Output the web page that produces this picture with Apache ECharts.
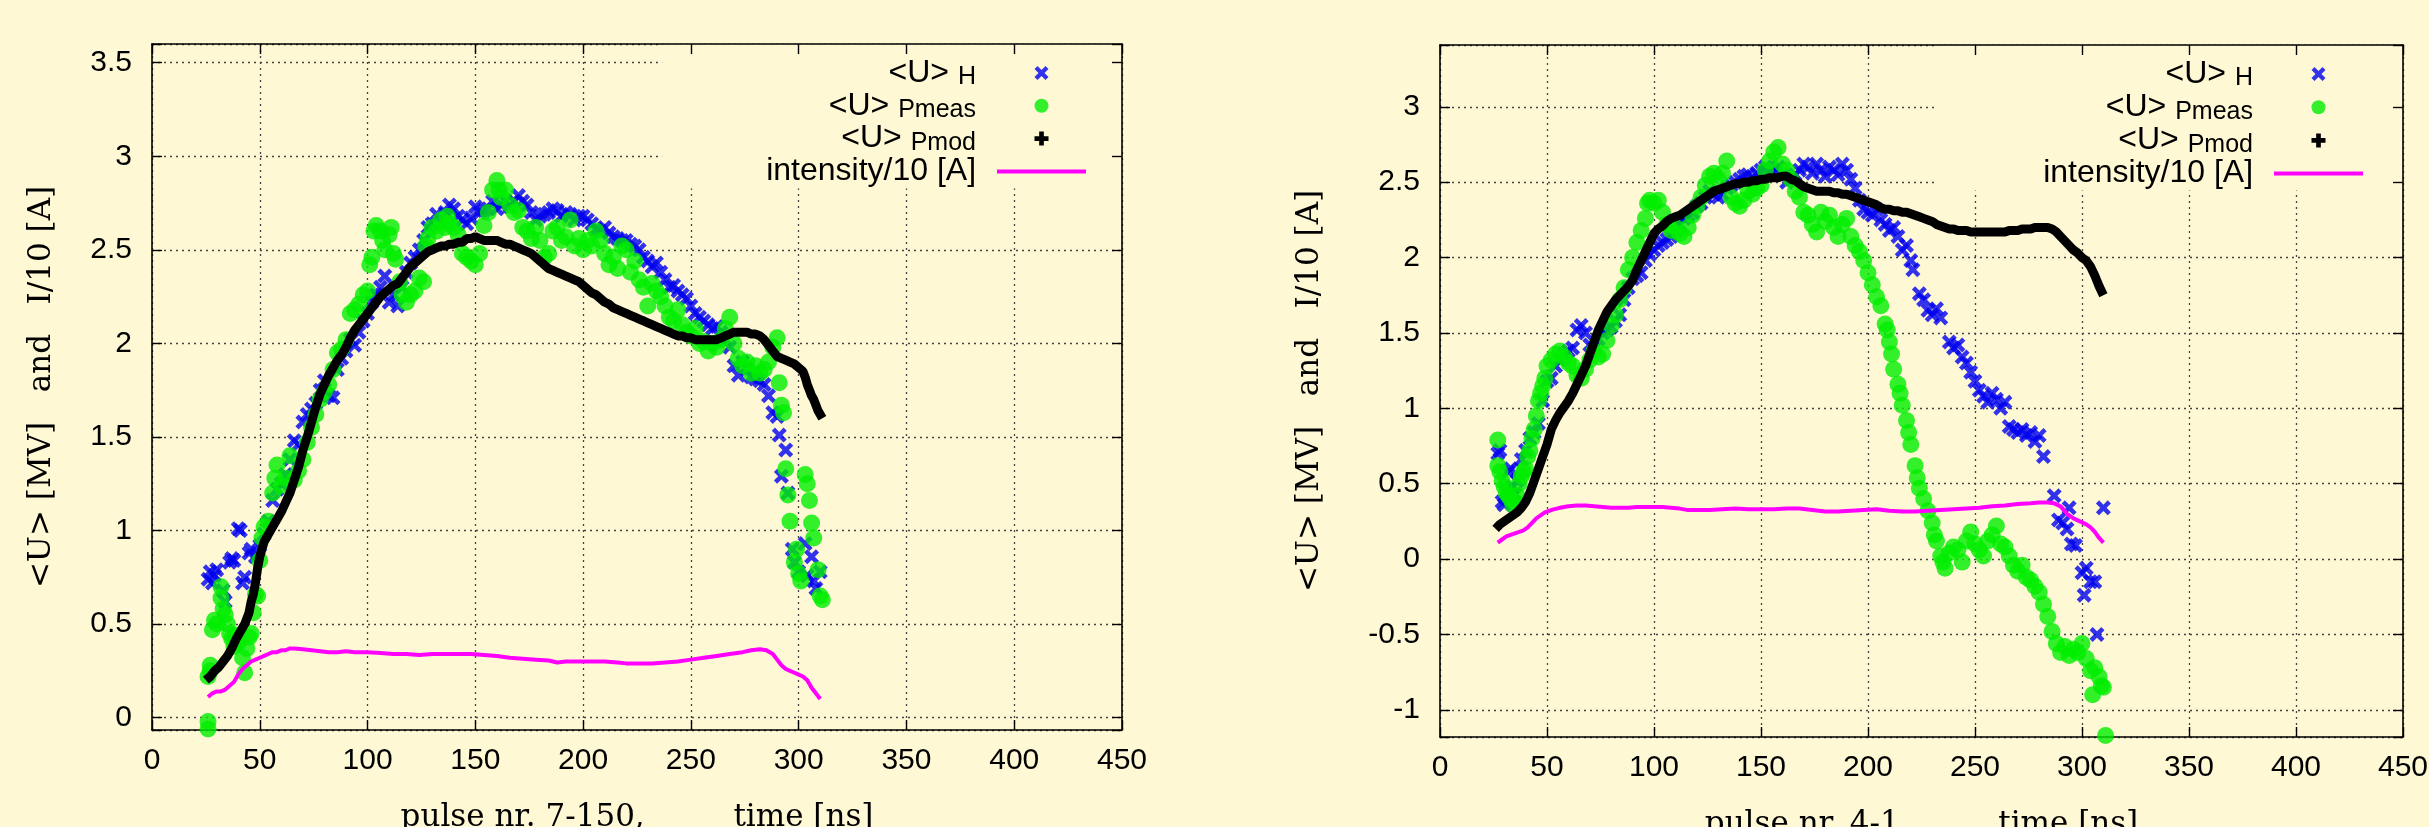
<!DOCTYPE html>
<html><head><meta charset="utf-8">
<script src="https://cdn.jsdelivr.net/npm/echarts@6/dist/echarts.min.js"></script>
<style>html,body{margin:0;padding:0;background:#fff8d5;}#c{width:2429px;height:827px;}</style>
</head><body><div id="c"></div>
<script>
// ---------- data (time [ns], value) ----------
const leftUH = [[26,0.74],[27,0.78],[28,0.72],[29,0.76],[30,0.79],[33,0.68],[34,0.62],[36,0.83],[37,0.85],[38,0.84],[40,1.01],[41,1.0],[42,0.72],[43,0.75],[45,0.88],[46,0.9],[48,0.86],[50,0.92],[52,0.98],[54,1.05],[56,1.16],[58,1.22],[60,1.25],[62,1.30],[64,1.38],[66,1.48],[68,1.46],[70,1.58],[72,1.62],[74,1.65],[76,1.68],[78,1.75],[80,1.80],[82,1.72],[84,1.71],[86,1.86],[88,1.92],[90,1.96],[92,2.02],[94,1.99],[96,2.06],[98,2.12],[100,2.16],[102,2.22],[104,2.26],[106,2.30],[108,2.36],[110,2.22],[112,2.26],[114,2.20],[116,2.30],[118,2.38],[120,2.43],[122,2.46],[124,2.50],[126,2.55],[128,2.62],[130,2.64],[132,2.69],[134,2.66],[136,2.70],[138,2.74],[140,2.72],[142,2.68],[144,2.66],[146,2.64],[148,2.67],[150,2.73],[152,2.70],[154,2.71],[156,2.72],[158,2.76],[160,2.72],[162,2.74],[164,2.76],[166,2.73],[168,2.76],[170,2.79],[172,2.76],[174,2.74],[176,2.70],[178,2.66],[180,2.68],[182,2.69],[184,2.70],[186,2.72],[188,2.71],[190,2.68],[192,2.70],[194,2.69],[196,2.66],[198,2.68],[200,2.68],[202,2.66],[204,2.64],[206,2.61],[208,2.60],[210,2.62],[212,2.59],[214,2.57],[216,2.56],[218,2.55],[220,2.55],[222,2.53],[224,2.52],[226,2.50],[228,2.46],[230,2.44],[232,2.41],[234,2.43],[236,2.38],[238,2.34],[240,2.30],[242,2.31],[244,2.28],[246,2.26],[248,2.24],[250,2.20],[252,2.16],[254,2.14],[256,2.12],[258,2.10],[260,2.08],[262,2.09],[264,2.06],[266,2.02],[268,1.98],[270,1.88],[272,1.83],[274,1.90],[276,1.86],[278,1.82],[280,1.81],[282,1.80],[284,1.78],[286,1.72],[288,1.63],[290,1.61],[291,1.51],[292,1.29],[294,1.43],[295,1.20],[297,0.90],[298,0.83],[300,0.78],[303,0.93],[304,0.76],[306,0.86],[307,0.73],[308,0.69],[310,0.78]];
const leftPmeas = [[26,-0.02],[26,-0.06],[26,0.22],[27,0.25],[27,0.28],[28,0.47],[29,0.52],[30,0.50],[32,0.70],[32,0.64],[33,0.58],[34,0.55],[35,0.50],[36,0.45],[37,0.42],[38,0.38],[39,0.44],[40,0.40],[42,0.32],[43,0.24],[44,0.37],[45,0.43],[46,0.45],[47,0.56],[48,0.66],[49,0.65],[50,0.84],[51,0.96],[52,1.02],[54,1.05],[56,1.20],[57,1.28],[58,1.35],[60,1.24],[62,1.28],[64,1.40],[66,1.27],[68,1.32],[70,1.38],[72,1.47],[74,1.55],[76,1.62],[78,1.70],[80,1.74],[82,1.78],[84,1.86],[86,1.95],[88,1.97],[90,2.02],[92,2.16],[94,2.18],[96,2.21],[98,2.26],[100,2.28],[101,2.42],[102,2.46],[103,2.60],[104,2.63],[106,2.60],[107,2.55],[108,2.50],[110,2.58],[111,2.62],[112,2.48],[113,2.45],[115,2.33],[116,2.26],[118,2.22],[120,2.26],[122,2.28],[124,2.35],[126,2.33],[127,2.52],[128,2.56],[130,2.62],[132,2.60],[134,2.66],[136,2.62],[137,2.68],[138,2.64],[140,2.62],[142,2.58],[144,2.48],[146,2.46],[148,2.44],[150,2.42],[152,2.48],[154,2.63],[156,2.70],[158,2.82],[160,2.87],[161,2.82],[162,2.78],[164,2.82],[166,2.74],[168,2.70],[170,2.71],[172,2.62],[174,2.60],[176,2.56],[178,2.62],[180,2.55],[182,2.46],[184,2.48],[186,2.60],[188,2.62],[190,2.55],[192,2.57],[194,2.66],[196,2.52],[198,2.56],[200,2.50],[202,2.55],[204,2.52],[206,2.60],[208,2.55],[210,2.48],[212,2.42],[214,2.46],[216,2.40],[218,2.52],[220,2.50],[222,2.38],[224,2.44],[226,2.34],[228,2.30],[230,2.20],[232,2.32],[234,2.28],[236,2.25],[238,2.20],[240,2.14],[242,2.12],[244,2.18],[246,2.10],[248,2.06],[250,2.04],[252,2.08],[254,2.00],[256,2.01],[258,1.96],[260,2.00],[262,1.98],[264,2.02],[266,2.08],[268,2.14],[270,2.00],[272,1.92],[274,1.88],[276,1.90],[278,1.84],[280,1.88],[282,1.84],[284,1.86],[286,1.90],[288,1.98],[290,2.03],[291,1.79],[292,1.67],[293,1.63],[294,1.33],[295,1.19],[296,1.05],[298,0.83],[299,0.90],[300,0.77],[301,0.73],[303,1.30],[304,1.25],[305,1.16],[306,1.04],[307,0.96],[309,0.79],[310,0.65],[311,0.63]];
const leftPmod = [[25,0.20],[27,0.22],[29,0.25],[31,0.27],[33,0.30],[35,0.33],[37,0.37],[39,0.42],[41,0.46],[43,0.50],[45,0.56],[46,0.62],[47,0.66],[48,0.72],[49,0.80],[50,0.86],[51,0.90],[52,0.94],[54,0.98],[56,1.02],[58,1.06],[60,1.10],[62,1.15],[64,1.20],[66,1.27],[68,1.34],[70,1.43],[72,1.50],[74,1.58],[76,1.66],[78,1.73],[80,1.78],[82,1.83],[84,1.87],[86,1.91],[88,1.94],[90,1.98],[92,2.03],[94,2.07],[96,2.10],[98,2.13],[100,2.16],[102,2.19],[104,2.22],[106,2.25],[108,2.27],[110,2.29],[112,2.31],[114,2.32],[116,2.35],[118,2.38],[120,2.41],[122,2.43],[124,2.45],[126,2.47],[128,2.49],[130,2.50],[132,2.51],[134,2.52],[136,2.52],[138,2.53],[140,2.53],[142,2.54],[144,2.54],[146,2.56],[148,2.56],[150,2.57],[152,2.56],[154,2.55],[156,2.55],[158,2.55],[160,2.55],[162,2.54],[164,2.53],[166,2.53],[168,2.52],[170,2.51],[172,2.50],[174,2.49],[176,2.48],[178,2.46],[180,2.44],[182,2.42],[184,2.40],[186,2.39],[188,2.38],[190,2.37],[192,2.36],[194,2.35],[196,2.34],[198,2.33],[200,2.31],[202,2.29],[204,2.27],[206,2.26],[208,2.24],[210,2.22],[212,2.21],[214,2.19],[216,2.18],[218,2.17],[220,2.16],[222,2.15],[224,2.14],[226,2.13],[228,2.12],[230,2.11],[232,2.10],[234,2.09],[236,2.08],[238,2.07],[240,2.06],[242,2.05],[244,2.04],[246,2.04],[248,2.03],[250,2.03],[252,2.02],[254,2.02],[256,2.02],[258,2.02],[260,2.02],[262,2.02],[264,2.03],[266,2.04],[268,2.05],[270,2.06],[272,2.06],[274,2.06],[276,2.06],[278,2.05],[280,2.05],[282,2.04],[284,2.02],[286,1.99],[288,1.96],[290,1.93],[292,1.92],[294,1.91],[296,1.90],[298,1.89],[300,1.87],[302,1.85],[303,1.82],[304,1.78],[305,1.75],[306,1.72],[307,1.70],[308,1.67],[309,1.64],[310,1.62],[311,1.60]];
const leftIntensity = [[26,0.11],[28,0.13],[30,0.14],[32,0.14],[34,0.15],[36,0.17],[38,0.19],[40,0.23],[42,0.26],[44,0.28],[46,0.30],[48,0.31],[50,0.32],[52,0.33],[54,0.34],[56,0.35],[58,0.35],[60,0.36],[62,0.36],[64,0.37],[66,0.37],[70,0.365],[74,0.36],[78,0.355],[82,0.35],[86,0.35],[90,0.355],[94,0.35],[100,0.35],[106,0.345],[112,0.34],[118,0.34],[124,0.335],[130,0.34],[136,0.34],[142,0.34],[148,0.34],[154,0.335],[160,0.33],[166,0.32],[172,0.315],[178,0.31],[184,0.305],[188,0.295],[192,0.30],[198,0.30],[204,0.30],[210,0.30],[216,0.295],[220,0.29],[226,0.29],[232,0.29],[238,0.295],[244,0.30],[250,0.31],[256,0.32],[262,0.33],[268,0.34],[274,0.35],[278,0.36],[282,0.365],[285,0.36],[288,0.34],[290,0.31],[292,0.28],[294,0.26],[296,0.25],[298,0.24],[300,0.23],[302,0.22],[304,0.20],[306,0.16],[308,0.13],[310,0.10]];

const rightUH = [[27,0.70],[28,0.72],[29,0.38],[30,0.36],[31,0.45],[32,0.58],[33,0.60],[34,0.48],[35,0.43],[36,0.52],[38,0.66],[40,0.72],[42,0.80],[44,0.84],[46,0.90],[48,1.05],[50,1.18],[52,1.20],[54,1.28],[56,1.32],[58,1.36],[60,1.38],[62,1.40],[64,1.52],[66,1.55],[68,1.50],[70,1.42],[72,1.40],[74,1.46],[76,1.50],[78,1.52],[80,1.54],[82,1.58],[84,1.62],[86,1.72],[88,1.80],[90,1.86],[92,1.88],[94,1.90],[96,1.98],[98,2.02],[100,2.05],[102,2.08],[104,2.10],[106,2.12],[108,2.14],[110,2.18],[112,2.22],[114,2.26],[116,2.28],[118,2.30],[120,2.34],[122,2.36],[124,2.40],[126,2.44],[128,2.42],[130,2.40],[132,2.42],[134,2.46],[136,2.48],[138,2.50],[140,2.52],[142,2.54],[144,2.55],[146,2.53],[148,2.56],[150,2.58],[152,2.60],[154,2.56],[156,2.58],[158,2.60],[160,2.55],[162,2.50],[164,2.52],[166,2.55],[168,2.58],[170,2.62],[172,2.60],[174,2.56],[176,2.62],[178,2.58],[180,2.54],[182,2.60],[184,2.58],[186,2.55],[188,2.62],[190,2.58],[192,2.52],[194,2.46],[196,2.38],[198,2.32],[200,2.30],[202,2.28],[204,2.32],[206,2.25],[208,2.22],[210,2.18],[212,2.20],[214,2.14],[216,2.05],[218,2.08],[220,1.98],[221,1.92],[224,1.76],[226,1.72],[228,1.65],[230,1.62],[232,1.66],[234,1.60],[238,1.44],[240,1.40],[242,1.42],[244,1.34],[246,1.30],[248,1.24],[250,1.18],[252,1.12],[254,1.08],[256,1.04],[258,1.10],[260,1.06],[262,1.00],[264,1.04],[266,0.88],[268,0.86],[270,0.84],[272,0.86],[274,0.82],[276,0.84],[278,0.78],[280,0.82],[282,0.68],[287,0.42],[289,0.26],[291,0.24],[293,0.20],[294,0.34],[295,0.10],[297,0.09],[300,-0.09],[301,-0.24],[302,-0.06],[304,-0.15],[306,-0.15],[307,-0.50],[310,0.34]];
const rightPmeas = [[27,0.79],[27,0.62],[28,0.58],[29,0.52],[30,0.48],[31,0.44],[32,0.42],[33,0.40],[34,0.36],[35,0.38],[36,0.42],[37,0.50],[38,0.55],[39,0.58],[40,0.60],[41,0.68],[42,0.72],[43,0.80],[44,0.86],[45,0.95],[46,1.05],[47,1.10],[48,1.15],[49,1.20],[50,1.28],[52,1.32],[54,1.36],[56,1.38],[58,1.34],[60,1.30],[62,1.28],[64,1.22],[66,1.20],[68,1.26],[70,1.32],[72,1.38],[74,1.34],[76,1.36],[78,1.45],[80,1.55],[82,1.62],[84,1.72],[86,1.80],[88,1.92],[90,2.00],[92,2.10],[94,2.18],[96,2.26],[97,2.36],[98,2.38],[100,2.36],[102,2.38],[104,2.30],[106,2.22],[108,2.18],[110,2.20],[112,2.16],[114,2.14],[116,2.20],[118,2.28],[120,2.34],[122,2.40],[124,2.48],[126,2.54],[128,2.56],[130,2.52],[132,2.56],[134,2.64],[136,2.40],[138,2.36],[140,2.34],[142,2.38],[144,2.44],[146,2.42],[148,2.46],[150,2.48],[152,2.58],[154,2.64],[156,2.70],[158,2.73],[160,2.62],[162,2.58],[164,2.52],[166,2.44],[168,2.40],[170,2.30],[172,2.28],[174,2.22],[176,2.17],[178,2.30],[180,2.24],[182,2.28],[184,2.20],[186,2.14],[188,2.22],[190,2.26],[192,2.14],[194,2.08],[196,2.04],[198,1.98],[200,1.90],[202,1.82],[204,1.74],[206,1.68],[208,1.56],[209,1.52],[210,1.44],[211,1.36],[212,1.26],[214,1.16],[215,1.10],[216,1.02],[218,0.92],[219,0.84],[220,0.76],[222,0.62],[223,0.54],[224,0.47],[226,0.40],[228,0.32],[230,0.24],[231,0.16],[232,0.12],[234,0.02],[235,-0.02],[236,-0.06],[238,0.04],[240,0.08],[242,0.06],[244,-0.02],[246,0.12],[248,0.18],[250,0.10],[252,0.06],[254,0.02],[256,0.12],[258,0.16],[260,0.22],[262,0.10],[264,0.08],[266,0.02],[268,-0.04],[270,-0.08],[272,-0.04],[274,-0.12],[276,-0.14],[278,-0.18],[280,-0.22],[282,-0.30],[284,-0.38],[286,-0.48],[288,-0.56],[290,-0.62],[292,-0.58],[294,-0.64],[296,-0.60],[298,-0.62],[300,-0.56],[302,-0.66],[304,-0.74],[305,-0.90],[306,-0.72],[308,-0.78],[309,-0.84],[310,-0.85],[311,-1.17]];
const rightPmod = [[26,0.20],[28,0.23],[30,0.25],[32,0.27],[34,0.29],[36,0.31],[38,0.34],[40,0.38],[42,0.44],[44,0.52],[46,0.60],[48,0.68],[50,0.76],[52,0.86],[54,0.92],[56,0.97],[58,1.01],[60,1.05],[62,1.10],[64,1.16],[66,1.22],[68,1.28],[70,1.36],[72,1.44],[74,1.52],[76,1.58],[78,1.64],[80,1.68],[82,1.72],[84,1.75],[86,1.78],[88,1.81],[90,1.85],[92,1.92],[94,1.98],[96,2.04],[98,2.10],[100,2.16],[102,2.19],[104,2.21],[106,2.24],[108,2.26],[110,2.27],[112,2.28],[114,2.30],[116,2.32],[118,2.34],[120,2.36],[122,2.38],[124,2.40],[126,2.42],[128,2.44],[130,2.45],[132,2.46],[134,2.47],[136,2.48],[138,2.49],[140,2.49],[142,2.50],[144,2.50],[146,2.51],[148,2.51],[150,2.52],[152,2.52],[154,2.53],[156,2.53],[158,2.53],[160,2.54],[162,2.54],[164,2.52],[166,2.51],[168,2.49],[170,2.47],[172,2.46],[174,2.45],[176,2.44],[178,2.44],[180,2.44],[182,2.44],[184,2.43],[186,2.43],[188,2.42],[190,2.42],[192,2.41],[194,2.40],[196,2.39],[198,2.38],[200,2.37],[202,2.36],[204,2.35],[206,2.33],[208,2.32],[210,2.32],[212,2.31],[214,2.31],[216,2.30],[218,2.30],[220,2.29],[222,2.28],[224,2.27],[226,2.26],[228,2.25],[230,2.24],[232,2.22],[234,2.21],[236,2.20],[238,2.19],[240,2.19],[242,2.18],[244,2.18],[246,2.18],[248,2.17],[250,2.17],[252,2.17],[254,2.17],[256,2.17],[258,2.17],[260,2.17],[262,2.17],[264,2.17],[266,2.18],[268,2.18],[270,2.18],[272,2.19],[274,2.19],[276,2.19],[278,2.20],[280,2.20],[282,2.20],[284,2.20],[286,2.19],[288,2.17],[290,2.14],[292,2.11],[294,2.08],[296,2.05],[298,2.03],[300,2.00],[302,1.98],[304,1.94],[306,1.88],[308,1.81],[310,1.75]];
const rightIntensity = [[27,0.11],[29,0.13],[31,0.15],[33,0.16],[35,0.17],[37,0.18],[39,0.19],[41,0.21],[43,0.24],[45,0.27],[47,0.29],[49,0.31],[51,0.32],[53,0.33],[56,0.34],[60,0.35],[64,0.355],[68,0.355],[72,0.35],[76,0.345],[80,0.34],[84,0.34],[88,0.34],[92,0.345],[96,0.345],[100,0.345],[104,0.345],[108,0.34],[112,0.335],[116,0.325],[120,0.325],[126,0.325],[132,0.33],[138,0.335],[144,0.33],[150,0.33],[156,0.33],[162,0.335],[168,0.335],[174,0.325],[180,0.315],[186,0.315],[192,0.32],[198,0.325],[204,0.33],[210,0.32],[216,0.315],[222,0.315],[228,0.32],[234,0.325],[240,0.33],[246,0.335],[252,0.34],[258,0.35],[264,0.355],[270,0.365],[276,0.37],[280,0.375],[284,0.375],[287,0.37],[290,0.35],[293,0.30],[296,0.27],[299,0.25],[302,0.23],[304,0.21],[306,0.18],[308,0.14],[310,0.11]];

// axis ranges and labels
const xRange = [0, 450];
const xStep = 50;
const yRangeLeft = [-0.066, 3.6];
const yRangeRight = [-1.18, 3.41];
const yStep = 0.5;
const seriesNames = ['<U> H', '<U> Pmeas', '<U> Pmod', 'intensity/10 [A]'];
const legendParts = [['<U> ', 'H'], ['<U> ', 'Pmeas'], ['<U> ', 'Pmod'], ['intensity/10 [A]', '']];
const xNames = ['pulse nr. 7-150,         time [ns]', 'pulse nr. 4-1,         time [ns]'];
const yName = '<U> [MV]   and   I/10 [A]';

// ---------- style ----------
const BG = '#fff8d5';
const C_BLUE = '#0000f0', C_GREEN = '#00ee00', C_BLACK = '#000000', C_MAG = '#ff00ff';
const SANS = 'Liberation Sans', SERIF = 'DejaVu Serif';
const XSYM = 'path://M0,3 L3,0 L7,4 L11,0 L14,3 L10,7 L14,11 L11,14 L7,10 L3,14 L0,11 L4,7 Z';
const PSYM = 'path://M3,0 L6,0 L6,3 L9,3 L9,6 L6,6 L6,9 L3,9 L3,6 L0,6 L0,3 L3,3 Z';
// thin bar centred in a 89x14 box (tiny zero-area anchors keep the full box height)
const LSYM = 'path://M0,0 L0.01,0 L0,0.01 Z M0,5 L89,5 L89,9 L0,9 Z M0,14 L0.01,14 L0,13.99 Z';

const grids = [
  {left: 152, top: 44, width: 970, height: 686, outerBoundsMode: 'none', containLabel: false},
  {left: 1440, top: 45, width: 963, height: 692, outerBoundsMode: 'none', containLabel: false}
];
const yRanges = [yRangeLeft, yRangeRight];
const yNameGaps = [95, 115];

const xAxes = [], yAxes = [];
const axisLineStyle = {show: true, onZero: false, lineStyle: {color: '#000', width: 1.6}};
const tickStyle = {show: true, inside: true, length: 10, lineStyle: {color: '#000', width: 1.4}};
const gridLineStyle = {show: true, lineStyle: {color: '#444', width: 1.3, type: [2, 4]}};
const yFmt = v => (Math.abs(v / yStep - Math.round(v / yStep)) < 1e-6 ? String(Math.round(v * 10) / 10) : '');
grids.forEach((g, i) => {
  xAxes.push({
    gridIndex: i, type: 'value', position: 'bottom', min: xRange[0], max: xRange[1], interval: xStep, z: 0,
    axisLine: axisLineStyle, axisTick: tickStyle,
    axisLabel: {show: true, margin: 16, fontSize: 30, fontFamily: SANS, color: '#000'},
    splitLine: gridLineStyle,
    name: xNames[i], nameLocation: 'middle', nameGap: 72,
    nameTextStyle: {fontFamily: SERIF, fontSize: 31, color: '#000'}
  });
  xAxes.push({
    gridIndex: i, type: 'value', position: 'top', min: xRange[0], max: xRange[1], interval: xStep, z: 3,
    axisLine: axisLineStyle, axisTick: tickStyle,
    axisLabel: {show: false}, splitLine: {show: false}
  });
  yAxes.push({
    gridIndex: i, type: 'value', position: 'left', min: yRanges[i][0], max: yRanges[i][1],
    minInterval: yStep, maxInterval: yStep, splitNumber: 8, z: 0,
    axisLine: axisLineStyle, axisTick: tickStyle,
    axisLabel: {show: true, margin: 20, fontSize: 30, fontFamily: SANS, color: '#000', formatter: yFmt},
    splitLine: gridLineStyle,
    name: yName, nameLocation: 'middle', nameGap: yNameGaps[i], nameRotate: 90,
    nameTextStyle: {fontFamily: SERIF, fontSize: 31, color: '#000'}
  });
  yAxes.push({
    gridIndex: i, type: 'value', position: 'right', min: yRanges[i][0], max: yRanges[i][1],
    minInterval: yStep, maxInterval: yStep, splitNumber: 8, z: 3,
    axisLine: axisLineStyle, axisTick: tickStyle,
    axisLabel: {show: false}, splitLine: {show: false}
  });
});

const panelData = [
  [leftUH, leftPmeas, leftPmod, leftIntensity],
  [rightUH, rightPmeas, rightPmod, rightIntensity]
];
const series = [];
panelData.forEach((d, i) => {
  const xi = i * 2, yi = i * 2;
  series.push({name: seriesNames[0], type: 'scatter', xAxisIndex: xi, yAxisIndex: yi, data: d[0],
    symbol: XSYM, symbolSize: 15, itemStyle: {color: C_BLUE}, silent: true, z: 2});
  series.push({name: seriesNames[1], type: 'scatter', xAxisIndex: xi, yAxisIndex: yi, data: d[1],
    symbol: 'circle', symbolSize: 17, itemStyle: {color: C_GREEN}, silent: true, z: 3});
  series.push({name: seriesNames[2], type: 'line', xAxisIndex: xi, yAxisIndex: yi, data: d[2],
    symbol: 'none', lineStyle: {color: C_BLACK, width: 9}, itemStyle: {color: C_BLACK}, silent: true, z: 4});
  series.push({name: seriesNames[3], type: 'line', xAxisIndex: xi, yAxisIndex: yi, data: d[3],
    symbol: 'none', lineStyle: {color: C_MAG, width: 4}, itemStyle: {color: C_MAG}, silent: true, z: 5});
});

const legendData = [
  {name: seriesNames[0], icon: XSYM, itemStyle: {color: C_BLUE}},
  {name: seriesNames[1], icon: 'circle', itemStyle: {color: C_GREEN}},
  {name: seriesNames[2], icon: PSYM, itemStyle: {color: C_BLACK}},
  {name: seriesNames[3], icon: LSYM, itemStyle: {color: C_MAG}}
];
const legendFmt = name => {
  const p = legendParts[seriesNames.indexOf(name)];
  return p[1] ? '{m|' + p[0] + '}{s|' + p[1] + '}' : '{m|' + p[0] + '}{z| }';
};
const legendRich = {
  m: {fontSize: 32, lineHeight: 34, fontFamily: SANS, color: '#000'},
  s: {fontSize: 25, lineHeight: 8, verticalAlign: 'bottom', fontFamily: SANS, color: '#000', padding: [0, 16, 0, 0]},
  z: {fontSize: 25, lineHeight: 8, verticalAlign: 'bottom', fontFamily: SANS, color: '#000', padding: [0, 9, 0, 0]}
};
const mkLegend = (right, top, gap, pad) => ({
  orient: 'vertical', align: 'right', right: right, top: top, itemGap: gap,
  itemWidth: 89, itemHeight: 14, padding: pad, backgroundColor: BG, z: 1,
  selectedMode: false, data: legendData, formatter: legendFmt,
  textStyle: {fontFamily: SANS, fontSize: 32, color: '#000', rich: legendRich}
});

const chart = echarts.init(document.getElementById('c'), null, {renderer: 'canvas'});
chart.setOption({
  backgroundColor: BG,
  animation: false,
  grid: grids,
  xAxis: xAxes,
  yAxis: yAxes,
  legend: [mkLegend(2429 - 1122, 44, -0.2, [13, 36, 0, 104]), mkLegend(2429 - 2403, 45, 0.2, [13, 40, 0, 107])],
  series: series
});
</script></body></html>
